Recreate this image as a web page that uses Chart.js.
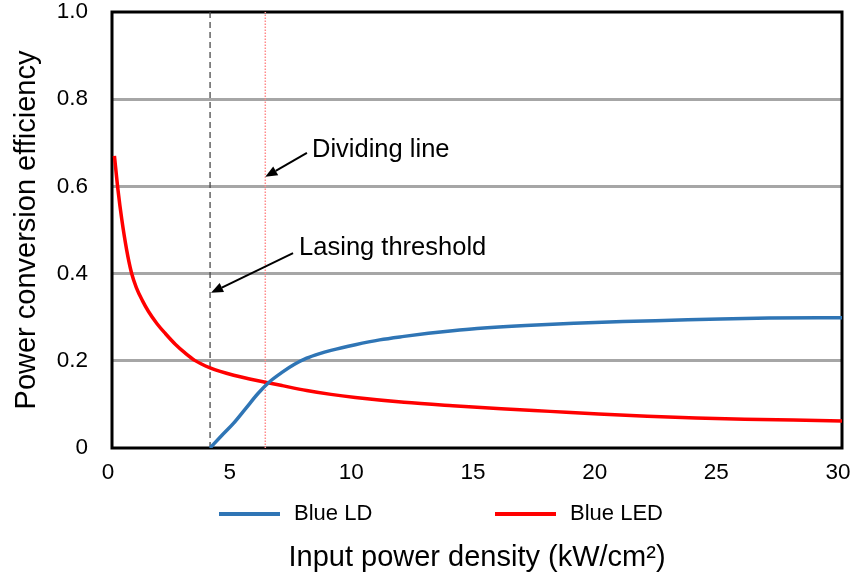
<!DOCTYPE html>
<html>
<head>
<meta charset="utf-8">
<script src="https://cdn.jsdelivr.net/npm/chart.js@4/dist/chart.umd.min.js"></script>
<style>
html,body{margin:0;padding:0;background:#fff;}
#wrap{width:855px;height:582px;}
</style>
</head>
<body>
<div id="wrap"><canvas id="c" width="855" height="582"></canvas></div>
<script>
// ---- data ----
const ldX = [4.03,4.5,5,5.5,6,6.5,7,7.5,8,8.5,9,10,11,12,13,14,15,17,19,21,23,25,27,30];
const ldY = [0,0.028,0.057,0.091,0.125,0.153,0.174,0.192,0.206,0.216,0.224,0.237,0.248,0.256,0.263,0.269,0.274,0.281,0.286,0.29,0.293,0.296,0.298,0.299];
const ledX = [0.1,0.25,0.4,0.6,0.8,1.0,1.25,1.5,1.85,2.2,2.6,3.0,3.4,4.03,5,6.3,7,8,9,10,12,14,16,18,20,22,24,26,28,30];
const ledY = [0.67,0.59,0.525,0.455,0.402,0.368,0.338,0.313,0.285,0.262,0.238,0.218,0.201,0.184,0.167,0.151,0.143,0.132,0.123,0.116,0.105,0.097,0.090,0.084,0.078,0.073,0.069,0.066,0.064,0.062];
const seriesNames = ['Blue LD', 'Blue LED'];
const lasingThreshold = 4.03;
const dividingLine = 6.3;
const xTicks = [0,5,10,15,20,25,30];
const yTicks = [0,0.2,0.4,0.6,0.8,1.0];
const xTitle = 'Input power density (kW/cm²)';
const yTitle = 'Power conversion efficiency';
const annotationTexts = ['Dividing line', 'Lasing threshold'];

const FONT = "'Liberation Sans', Arial, sans-serif";
const pts = (xs, ys) => xs.map((x, i) => ({x, y: ys[i]}));

// annotations (data-space anchors)
const annotations = [
  {text: annotationTexts[0], tx: 8.22, ty: 0.683, ax0: 8.01, ay0: 0.677, ax1: dividingLine, ay1: 0.622},
  {text: annotationTexts[1], tx: 7.69, ty: 0.459, ax0: 7.44, ay0: 0.447, ax1: lasingThreshold + 0.04, ay1: 0.356}
];

const zeroPad = s => { s.paddingLeft = 0; s.paddingRight = 0; s.paddingTop = 0; s.paddingBottom = 0; };

const boxPlugin = {
  id: 'box',
  beforeDatasetsDraw(chart) {
    const {ctx, chartArea: a} = chart;
    ctx.save();
    ctx.strokeStyle = '#000';
    ctx.lineWidth = 3;
    ctx.strokeRect(a.left, a.top, a.right - a.left, a.bottom - a.top);
    ctx.restore();
  }
};

const annPlugin = {
  id: 'ann',
  afterDatasetsDraw(chart) {
    const {ctx} = chart;
    const xs = chart.scales.x, ys = chart.scales.y;
    ctx.save();
    annotations.forEach(an => {
      const x0 = xs.getPixelForValue(an.ax0), y0 = ys.getPixelForValue(an.ay0);
      const x1 = xs.getPixelForValue(an.ax1), y1 = ys.getPixelForValue(an.ay1);
      const ang = Math.atan2(y1 - y0, x1 - x0);
      const L = 12, W = 5;
      const bx = x1 - L * Math.cos(ang), by = y1 - L * Math.sin(ang);
      ctx.strokeStyle = '#000'; ctx.fillStyle = '#000';
      ctx.lineWidth = 2;
      ctx.beginPath(); ctx.moveTo(x0, y0); ctx.lineTo(bx, by); ctx.stroke();
      ctx.beginPath();
      ctx.moveTo(x1, y1);
      ctx.lineTo(bx + W * Math.sin(ang), by - W * Math.cos(ang));
      ctx.lineTo(bx - W * Math.sin(ang), by + W * Math.cos(ang));
      ctx.closePath(); ctx.fill();
      ctx.font = '25.5px ' + FONT;
      ctx.textAlign = 'left'; ctx.textBaseline = 'middle';
      ctx.fillText(an.text, xs.getPixelForValue(an.tx), ys.getPixelForValue(an.ty));
    });
    ctx.restore();
  }
};

const legendPlugin = {
  id: 'customLegend',
  afterDraw(chart) {
    const {ctx, chartArea: a} = chart;
    const y = a.bottom + 66;
    let x = a.left + 107;
    ctx.save();
    ctx.font = '22px ' + FONT;
    ctx.textBaseline = 'middle';
    ctx.textAlign = 'left';
    chart.data.datasets.filter(d => d.inLegend).forEach(d => {
      ctx.strokeStyle = d.borderColor;
      ctx.lineWidth = 4;
      ctx.beginPath(); ctx.moveTo(x, y); ctx.lineTo(x + 61, y); ctx.stroke();
      ctx.fillStyle = '#000';
      ctx.fillText(d.label, x + 75, y);
      x += 276;
    });
    ctx.restore();
  }
};

new Chart(document.getElementById('c'), {
  type: 'line',
  data: {
    datasets: [
      {label: seriesNames[0], data: pts(ldX, ldY), borderColor: '#2f75b5', borderWidth: 3.5, pointRadius: 0, cubicInterpolationMode: 'monotone', inLegend: true},
      {label: seriesNames[1], data: pts(ledX, ledY), borderColor: '#ff0000', borderWidth: 3.5, pointRadius: 0, cubicInterpolationMode: 'monotone', inLegend: true},
      {label: 'threshold', data: [{x: lasingThreshold, y: 0}, {x: lasingThreshold, y: 1}], borderColor: '#4a4a4a', borderWidth: 1.3, borderDash: [6, 4], pointRadius: 0, order: 5},
      {label: 'dividing', data: [{x: dividingLine, y: 0}, {x: dividingLine, y: 1}], borderColor: '#ff8a8a', borderWidth: 1.5, borderDash: [1.5, 1.5], pointRadius: 0, order: 5}
    ]
  },
  options: {
    responsive: false,
    animation: false,
    layout: {autoPadding: false, padding: {top: 12, right: 13, left: 0, bottom: 0}},
    plugins: {legend: {display: false}, tooltip: {enabled: false}},
    scales: {
      x: {
        type: 'linear', min: 0, max: 30,
        afterBuildTicks: s => { s.ticks = xTicks.map(v => ({value: v})); },
        afterFit: s => { s.height = 134; zeroPad(s); },
        grid: {display: false, drawTicks: false},
        border: {display: false},
        ticks: {font: {family: FONT, size: 22.5}, color: '#000', padding: 11, labelOffset: -4, maxRotation: 0, callback: v => String(v)},
        title: {display: true, text: xTitle, font: {family: FONT, size: 29}, color: '#000', padding: {top: 0, bottom: 7}}
      },
      y: {
        type: 'linear', min: 0, max: 1,
        afterBuildTicks: s => { s.ticks = yTicks.map(v => ({value: v})); },
        afterFit: s => { s.width = 112; zeroPad(s); },
        grid: {drawTicks: false, lineWidth: 3, color: ctx => (ctx.tick && (ctx.tick.value === 0 || ctx.tick.value === 1)) ? 'rgba(0,0,0,0)' : '#a6a6a6'},
        border: {display: false},
        ticks: {font: {family: FONT, size: 22.5}, color: '#000', padding: 24, callback: v => v === 0 ? '0' : v.toFixed(1)},
        title: {display: true, text: yTitle, font: {family: FONT, size: 29}, color: '#000', padding: {top: 10, bottom: 0}}
      }
    }
  },
  plugins: [boxPlugin, annPlugin, legendPlugin]
});
</script>
</body>
</html>
